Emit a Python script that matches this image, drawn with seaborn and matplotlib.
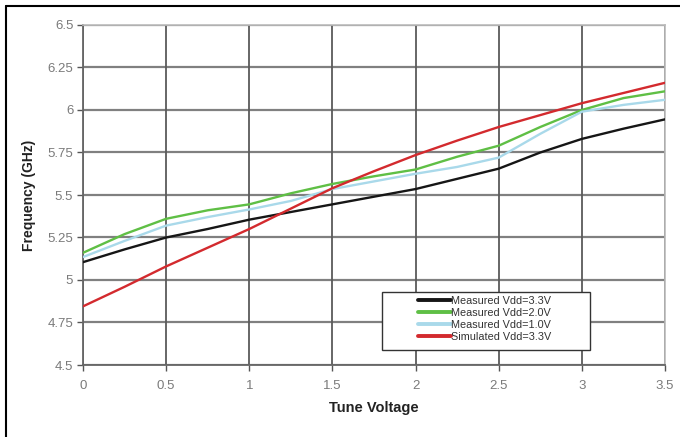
import numpy as np
import pandas as pd
import matplotlib
matplotlib.use("Agg")
import matplotlib.pyplot as plt
from matplotlib.lines import Line2D
from matplotlib.patches import Rectangle
import seaborn as sns

# ── data ────────────────────────────────────────────────────────────────────
tune_v = [0, 0.25, 0.5, 0.75, 1.0, 1.25, 1.5, 1.75, 2.0, 2.25, 2.5, 2.75, 3.0, 3.25, 3.5]
meas_33 = [5.105, 5.18, 5.25, 5.30, 5.355, 5.40, 5.445, 5.49, 5.535, 5.595, 5.655, 5.75, 5.83, 5.89, 5.945]
meas_20 = [5.16, 5.27, 5.36, 5.41, 5.445, 5.51, 5.565, 5.61, 5.65, 5.725, 5.79, 5.90, 6.00, 6.07, 6.11]
meas_10 = [5.135, 5.23, 5.32, 5.37, 5.415, 5.465, 5.535, 5.58, 5.625, 5.665, 5.72, 5.86, 5.99, 6.03, 6.06]
sim_33 = [4.845, 4.96, 5.08, 5.19, 5.30, 5.42, 5.54, 5.64, 5.735, 5.82, 5.90, 5.97, 6.04, 6.10, 6.16]

series_names = ["Measured Vdd=3.3V", "Measured Vdd=2.0V", "Measured Vdd=1.0V", "Simulated Vdd=3.3V"]
series_vals = [meas_33, meas_20, meas_10, sim_33]
colors = ["#161616", "#5fbf45", "#a9d9ea", "#d32a2e"]

x_ticks = [0, 0.5, 1, 1.5, 2, 2.5, 3, 3.5]
x_labels = ["0", "0.5", "1", "1.5", "2", "2.5", "3", "3.5"]
y_ticks = [4.5, 4.75, 5, 5.25, 5.5, 5.75, 6, 6.25, 6.5]
y_labels = ["4.5", "4.75", "5", "5.25", "5.5", "5.75", "6", "6.25", "6.5"]

df = pd.DataFrame({
    "Tune Voltage": tune_v * len(series_names),
    "Frequency": sum(series_vals, []),
    "series": np.repeat(series_names, len(tune_v)),
})

# ── plot ─────────────────────────────────────────────────────────────────────
sns.set_theme(style="white")
plt.rcParams["font.family"] = ["Liberation Sans", "DejaVu Sans"]

fig = plt.figure(figsize=(6.8, 4.37), dpi=100)
ax = fig.add_axes([83 / 680, 1 - 365 / 437, 582 / 680, 340 / 437])

for y in y_ticks:
    ax.axhline(y, color="#808080", lw=1.6, zorder=0)
for x in x_ticks:
    ax.axvline(x, color="#5a5a5a", lw=1.3, zorder=0)

sns.lineplot(data=df, x="Tune Voltage", y="Frequency", hue="series",
             hue_order=series_names, palette=colors, lw=1.7, ax=ax,
             legend=False, zorder=3)

ax.set_xlim(0, 3.5)
ax.set_ylim(4.5, 6.5)
ax.set_xticks(x_ticks)
ax.set_xticklabels(x_labels)
ax.set_yticks(y_ticks)
ax.set_yticklabels(y_labels)
ax.tick_params(axis="both", labelsize=9.5, labelcolor="#7a7a7a", colors="#555555",
               length=4, width=1, direction="out", bottom=True, left=True)
ax.tick_params(axis="x", pad=7)
ax.tick_params(axis="y", pad=3)

for side in ["left", "bottom"]:
    ax.spines[side].set_color("#666666")
    ax.spines[side].set_linewidth(1.3)
for side in ["top", "right"]:
    ax.spines[side].set_color("#bbbbbb")
    ax.spines[side].set_linewidth(1.2)

ax.set_xlabel("Tune Voltage", fontsize=10.5, fontweight="bold", color="#222222", labelpad=6)
ax.set_ylabel("Frequency (GHz)", fontsize=10, fontweight="bold", color="#222222", labelpad=8)

# legend: box drawn separately, entries centred in it
ax.add_patch(Rectangle((0.514, 0.044), 0.357, 0.171, transform=ax.transAxes,
                       facecolor="white", edgecolor="#333333", lw=1.0, zorder=5))
handles = [Line2D([0], [0], color=c, lw=2.8) for c in colors]
leg = ax.legend(handles, series_names, loc="center", bbox_to_anchor=(0.69, 0.135),
                frameon=False, fontsize=7.8, handlelength=3.0, handletextpad=0.0,
                labelspacing=0.18, borderpad=0.2)
leg.set_zorder(6)
for t in leg.get_texts():
    t.set_color("#333333")

# outer frame (cropped at right and bottom in the reference)
fig.add_artist(Line2D([6 / 680, 6 / 680], [0, 1 - 6 / 437], color="black", lw=1.5))
fig.add_artist(Line2D([6 / 680, 1], [1 - 6 / 437, 1 - 6 / 437], color="black", lw=1.5))

fig.savefig("out.png", dpi=100, facecolor="white")
